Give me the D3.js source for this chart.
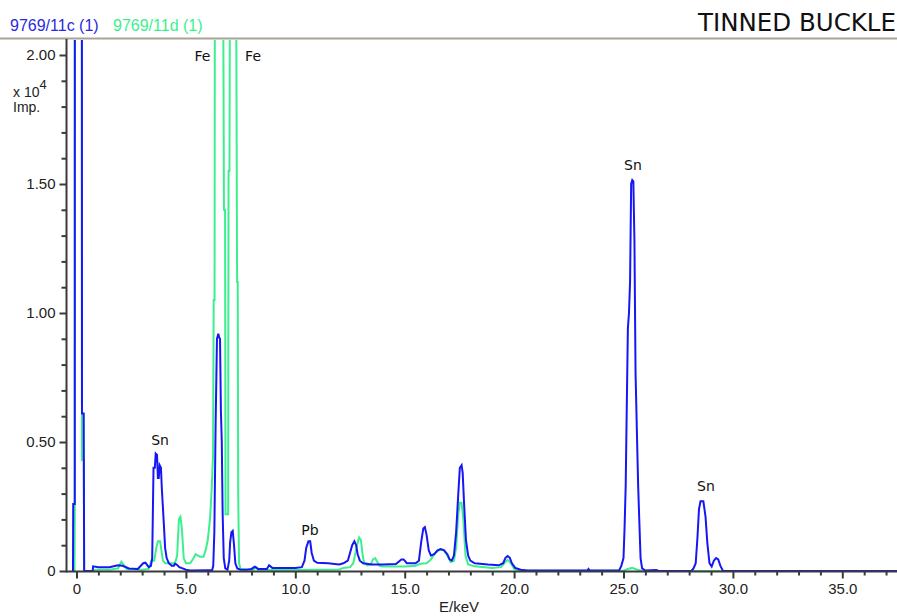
<!DOCTYPE html>
<html><head><meta charset="utf-8">
<script src="https://cdn.jsdelivr.net/npm/d3@7"></script>
<style>
html,body{margin:0;padding:0;background:#fff;}
svg{display:block;}
</style></head>
<body>
<script>
// ---- data (counts in units of 10^4 impulses) ----
const seriesNames = ["9769/11c (1)", "9769/11d (1)"];
const chartTitle = "TINNED BUCKLE";

const blueEnergy = [-0.16,-0.15,-0.08,-0.07,0.24,0.25,0.33,0.35,0.74,0.76,1.0,1.5,1.9,2.1,2.4,2.8,3.05,3.15,3.3,3.4,3.46,3.52,3.58,3.62,3.68,3.72,3.76,3.8,3.86,3.9,3.95,4.0,4.05,4.12,4.22,4.35,4.45,4.5,4.58,4.7,4.85,5.0,5.2,6.0,6.2,6.25,6.3,6.36,6.42,6.48,6.52,6.56,6.6,6.64,6.68,6.73,6.8,6.9,6.98,7.02,7.08,7.14,7.2,7.26,7.35,7.5,7.8,8.0,8.15,8.3,8.7,8.8,8.95,9.2,10.0,10.3,10.42,10.5,10.6,10.68,10.75,10.85,11.0,11.5,12.0,12.2,12.4,12.5,12.6,12.7,12.78,12.85,12.95,13.1,13.5,14.0,14.6,14.85,14.95,15.1,15.5,15.65,15.75,15.85,15.92,16.0,16.1,16.2,16.35,16.5,16.65,16.8,16.95,17.05,17.15,17.25,17.35,17.45,17.52,17.6,17.65,17.72,17.8,17.9,18.0,18.2,18.8,19.3,19.5,19.6,19.7,19.8,19.9,20.05,20.3,20.6,22.0,23.35,23.4,23.45,24.8,24.9,25.0,25.05,25.1,25.15,25.2,25.25,25.3,25.35,25.4,25.45,25.5,25.55,25.62,25.67,25.72,25.78,25.85,26.0,26.5,26.6,28.1,28.2,28.3,28.38,28.45,28.52,28.65,28.75,28.83,28.93,29.03,29.13,29.23,29.33,29.43,29.55,37.5];
const blueCounts = [0,0.26,0.26,5,5,0.61,0.61,0,0,0.018,0.015,0.015,0.022,0.02,0.01,0.008,0.03,0.032,0.015,0.02,0.05,0.40,0.40,0.455,0.45,0.36,0.36,0.41,0.40,0.32,0.245,0.17,0.09,0.05,0.03,0.02,0.02,0.028,0.025,0.015,0.01,0.005,0.002,0.003,0.003,0.02,0.15,0.58,0.90,0.92,0.905,0.90,0.62,0.50,0.22,0.05,0.01,0.005,0.04,0.11,0.15,0.155,0.10,0.03,0.01,0.005,0.005,0.008,0.017,0.008,0.008,0.022,0.012,0.012,0.012,0.015,0.04,0.09,0.115,0.115,0.07,0.04,0.032,0.03,0.025,0.03,0.04,0.07,0.10,0.115,0.10,0.065,0.04,0.03,0.025,0.025,0.027,0.045,0.045,0.03,0.03,0.04,0.11,0.165,0.17,0.14,0.08,0.06,0.065,0.08,0.085,0.08,0.065,0.045,0.04,0.06,0.15,0.30,0.40,0.41,0.38,0.25,0.12,0.06,0.04,0.03,0.025,0.022,0.03,0.05,0.058,0.052,0.03,0.012,0.005,0.002,0.002,0.002,0.008,0.002,0.002,0.02,0.05,0.17,0.33,0.64,0.94,1.0,1.12,1.50,1.515,1.51,1.28,0.77,0.51,0.33,0.20,0.05,0.01,0.002,0.004,0,0,0.01,0.03,0.13,0.24,0.27,0.27,0.21,0.11,0.03,0.017,0.04,0.05,0.045,0.02,0,0];

const greenEnergy = [-0.09,-0.08,-0.07,0.24,0.25,0.33,0.35,0.8,0.85,1.5,1.9,2.05,2.15,2.3,3.0,3.3,3.42,3.55,3.65,3.72,3.82,3.88,3.95,4.05,4.5,4.6,4.68,4.75,4.82,4.9,5.0,5.2,5.35,5.45,5.55,5.65,5.8,5.9,6.0,6.1,6.18,6.24,6.27,6.31,6.33,6.5,6.65,6.71,6.74,6.79,6.81,6.93,6.95,6.99,7.01,7.1,7.3,7.34,7.37,7.39,7.43,7.5,8.0,8.1,8.2,8.3,9.0,10.0,11.0,12.0,12.2,12.5,12.65,12.75,12.85,12.92,13.0,13.08,13.15,13.3,13.45,13.55,13.65,13.75,13.85,14.0,15.0,15.5,15.7,16.0,16.2,16.4,16.6,16.8,16.95,17.1,17.25,17.35,17.45,17.52,17.6,17.68,17.78,17.9,18.2,19.0,19.4,19.55,19.7,19.85,20.0,20.3,25.0,25.2,25.4,25.6,25.8,26.0,37.5];
const greenCounts = [0,0.21,5,5,0.43,0.43,0,0,0.005,0.005,0.01,0.036,0.025,0.008,0.005,0.008,0.04,0.04,0.09,0.115,0.115,0.08,0.04,0.03,0.03,0.06,0.20,0.21,0.16,0.05,0.03,0.03,0.05,0.065,0.06,0.055,0.055,0.08,0.12,0.20,0.32,0.45,1.05,1.05,3.0,9.0,4.0,2.1,1.40,1.40,0.22,0.22,1.55,1.55,2.2,2.6,2.2,1.12,1.12,0.30,0.03,0.008,0.005,0.005,0.015,0.005,0.004,0.004,0.005,0.006,0.012,0.015,0.03,0.07,0.11,0.13,0.12,0.06,0.03,0.022,0.025,0.045,0.05,0.035,0.02,0.017,0.017,0.02,0.028,0.03,0.045,0.07,0.083,0.08,0.06,0.035,0.04,0.09,0.22,0.265,0.265,0.20,0.06,0.025,0.018,0.012,0.015,0.03,0.043,0.03,0.008,0.001,0.001,0.008,0.012,0.006,0.001,0,0];

const peakLabels = ["Sn", "Fe", "Fe", "Pb", "Sn", "Sn"];
const peakLabelEnergy = [3.82, 5.76, 8.07, 10.67, 25.43, 28.77];
const peakLabelCounts = [0.488, 1.977, 1.977, 0.14, 1.554, 0.31];

const xMajorTicks = [0, 5, 10, 15, 20, 25, 30, 35];
const xTickLabels = ["0", "5.0", "10.0", "15.0", "20.0", "25.0", "30.0", "35.0"];
const yMajorTicks = [0, 0.5, 1.0, 1.5, 2.0];
const yTickLabels = ["0", "0.50", "1.00", "1.50", "2.00"];

// ---- layout ----
const W = 897, H = 616;
const plotLeft = 66.5, plotTop = 39, plotBottom = 571.5, plotRight = 897;
const blueCol = "#1717f5", greenCol = "#3cef8e", axisCol = "#3a3a3a";

const svg = d3.select("body").append("svg").attr("width", W).attr("height", H);

const x = d3.scaleLinear().domain([0, 35]).range([76.5, 842.3]);
const y = d3.scaleLinear().domain([0, 2]).range([571, 55]);

svg.append("defs").append("clipPath").attr("id", "plotclip")
  .append("rect").attr("x", plotLeft).attr("y", plotTop + 1)
  .attr("width", plotRight - plotLeft).attr("height", plotBottom - plotTop - 1);

// top rule
svg.append("line").attr("x1", 0).attr("x2", W).attr("y1", 38.5).attr("y2", 38.5)
  .attr("stroke", "#a8a396").attr("stroke-width", 2);

// legend
const legendFont = "'Liberation Sans', Arial, sans-serif";
svg.append("text").attr("x", 10).attr("y", 31).text(seriesNames[0])
  .attr("fill", "#2a2ae0").attr("font-family", legendFont).attr("font-size", 16);
svg.append("text").attr("x", 113).attr("y", 31).text(seriesNames[1])
  .attr("fill", greenCol).attr("font-family", legendFont).attr("font-size", 16);

// title
svg.append("text").attr("x", 896).attr("y", 31).attr("text-anchor", "end")
  .text(chartTitle).attr("font-family", "'DejaVu Sans', sans-serif")
  .attr("font-size", 24.5).attr("fill", "#111");

// series lines
const line = d3.line().x(d => x(d[0])).y(d => y(d[1])).curve(d3.curveLinear);
const greenData = greenEnergy.map((e, i) => [e, greenCounts[i]]);
const blueData = blueEnergy.map((e, i) => [e, blueCounts[i]]);
const g = svg.append("g").attr("clip-path", "url(#plotclip)");
g.append("path").datum(greenData).attr("d", line).attr("fill", "none")
  .attr("stroke", greenCol).attr("stroke-width", 2).attr("stroke-linejoin", "miter");
g.append("path").datum(blueData).attr("d", line).attr("fill", "none")
  .attr("stroke", blueCol).attr("stroke-width", 2).attr("stroke-linejoin", "miter");

// peak labels
svg.append("g").selectAll("text").data(peakLabels).join("text")
  .attr("x", (d, i) => x(peakLabelEnergy[i]))
  .attr("y", (d, i) => y(peakLabelCounts[i]))
  .attr("text-anchor", "middle")
  .attr("font-family", "'DejaVu Sans', sans-serif").attr("font-size", 14)
  .attr("fill", "#111").text(d => d);

// axes
const tickFont = "'Liberation Sans', Arial, sans-serif";
const xMinor = d3.range(0, 38, 1).filter(v => v % 5 !== 0);
const yMinor = d3.range(0, 21, 1).map(v => v / 10).filter(v => Math.round(v * 10) % 5 !== 0);

const xAxisMinor = svg.append("g").attr("transform", `translate(0,${plotBottom})`)
  .call(d3.axisBottom(x).tickValues(xMinor).tickSize(4).tickFormat(""));
const xAxisMajor = svg.append("g").attr("transform", `translate(0,${plotBottom})`)
  .call(d3.axisBottom(x).tickValues(xMajorTicks).tickSize(7).tickPadding(5)
    .tickFormat((d, i) => xTickLabels[i]));
const yAxisMinor = svg.append("g").attr("transform", `translate(${plotLeft},0)`)
  .call(d3.axisLeft(y).tickValues(yMinor).tickSize(5).tickFormat(""));
const yAxisMajor = svg.append("g").attr("transform", `translate(${plotLeft},0)`)
  .call(d3.axisLeft(y).tickValues(yMajorTicks).tickSize(7).tickPadding(4)
    .tickFormat((d, i) => yTickLabels[i]));

[xAxisMinor, xAxisMajor, yAxisMinor, yAxisMajor].forEach(a => {
  a.select(".domain").remove();
  a.selectAll(".tick line").attr("stroke", axisCol).attr("stroke-width", 2);
  a.selectAll(".tick text").attr("fill", "#222").attr("font-family", tickFont).attr("font-size", 15);
});

// axis lines
svg.append("line").attr("x1", plotLeft).attr("x2", plotRight).attr("y1", plotBottom).attr("y2", plotBottom)
  .attr("stroke", axisCol).attr("stroke-width", 2);
svg.append("line").attr("x1", plotLeft).attr("x2", plotLeft).attr("y1", plotTop).attr("y2", plotBottom + 1)
  .attr("stroke", axisCol).attr("stroke-width", 2);

// axis titles
svg.append("text").attr("x", 459).attr("y", 612).attr("text-anchor", "middle")
  .attr("font-family", tickFont).attr("font-size", 15).attr("fill", "#222").text("E/keV");
const yt = svg.append("text").attr("x", 13).attr("y", 97)
  .attr("font-family", tickFont).attr("font-size", 14).attr("fill", "#222");
yt.append("tspan").text("x 10");
yt.append("tspan").attr("dy", -8).attr("font-size", 13).text("4");
svg.append("text").attr("x", 13).attr("y", 112)
  .attr("font-family", tickFont).attr("font-size", 14).attr("fill", "#222").text("Imp.");
</script>
</body></html>
